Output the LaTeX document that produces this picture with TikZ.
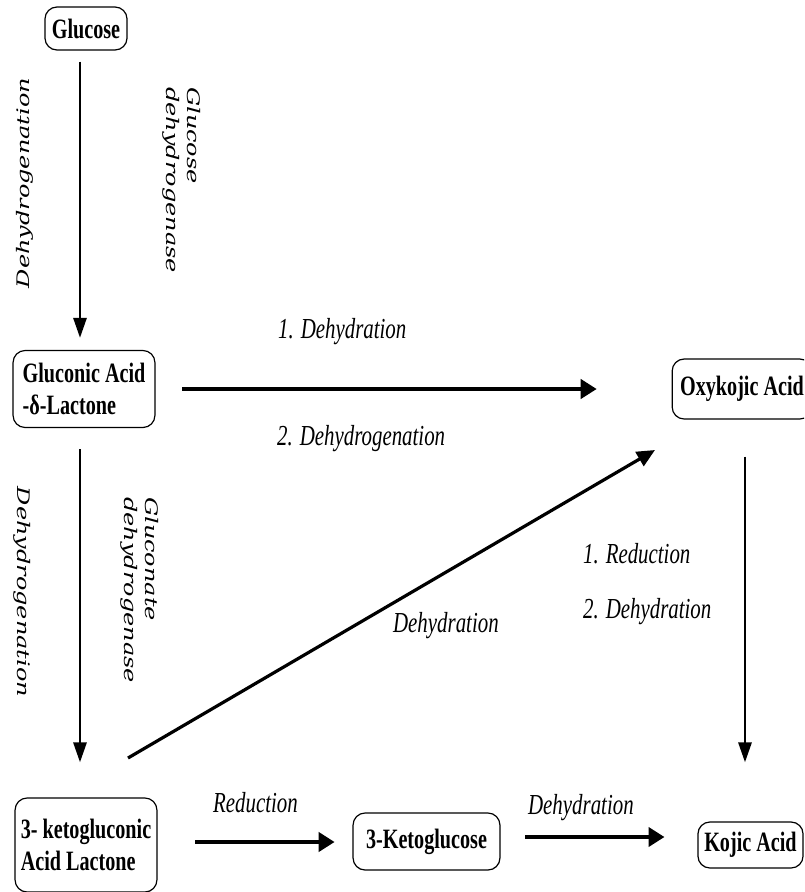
\documentclass[tikz,border=0pt]{standalone}
\usepackage{fontspec}
\newfontfamily\tnr{Liberation Serif}
\newfontfamily\dvs{DejaVu Serif}
\usetikzlibrary{arrows.meta}
\tikzset{
  chem/.style={draw, line width=1.2pt, rounded corners=12pt, inner sep=0pt, align=left,
    font=\tnr\bfseries\fontsize{28}{32.5}\selectfont},
  rxn/.style={inner sep=0pt, anchor=base west, font=\tnr\itshape\fontsize{29}{32}\selectfont},
  enz/.style={inner sep=0pt, align=left, font=\dvs\itshape\fontsize{24}{30}\selectfont},
  varrow/.style={line width=2.8pt, -{Triangle[length=20pt,width=13pt]}},
  harrow/.style={line width=4pt, -{Triangle[length=16pt,width=19pt]}},
  darrow/.style={line width=3.2pt, -{Triangle[length=18pt,width=16pt]}}
}
\begin{document}
\begin{tikzpicture}[x=1.38889pt, y=-1pt, xscale=0.72, transform shape]
\useasboundingbox (0,0) rectangle (804,892);
\clip (0,0) rectangle (804,892);

\node[chem, minimum width=114, minimum height=43] (glc) at (86,28.5) {Glucose};
\node[chem, minimum width=197, minimum height=77] (gla) at (84,389) {Gluconic Acid\\-δ-Lactone};
\node[chem, minimum width=194, minimum height=60] (oxy) at (742,389) {Oxykojic Acid};
\node[chem, minimum width=197, minimum height=94] (kgl) at (86,845) {3- ketogluconic\\Acid Lactone};
\node[chem, minimum width=204, minimum height=57] (kgc) at (426.5,841.5) {3-Ketoglucose};
\node[chem, minimum width=146, minimum height=46] (koj) at (750.5,845) {Kojic Acid};

\node[enz, rotate=90] (dhA) at (25,183) {Dehydrogenation};
\node[enz, rotate=-90, anchor=north west] (gdh) at (201,87) {Glucose\\dehydrogenase};
\node[enz, rotate=-90] (dhB) at (22,592) {Dehydrogenation};
\node[enz, rotate=-90, anchor=north west] (gcd) at (159,497) {Gluconate\\dehydrogenase};

\node[rxn] (r1) at (278,338) {1. Dehydration};
\node[rxn] (r2) at (277,445) {2. Dehydrogenation};
\node[rxn] (r3) at (393,632) {Dehydration};
\node[rxn] (r4) at (583,563) {1. Reduction};
\node[rxn] (r5) at (583,618) {2. Dehydration};
\node[rxn] (r6) at (213,812) {Reduction};
\node[rxn] (r7) at (528,814) {Dehydration};

\coordinate (gx) at (80,0);
\coordinate (kx) at (745,0);
\coordinate (ry) at (0,842);
\coordinate (dy) at (0,837);
\coordinate (ds) at (128,758);
\coordinate (de) at (655,450);

\draw[varrow, shorten <=11pt, shorten >=12pt] (glc.south -| gx) -- (gla.north -| gx);
\draw[varrow, shorten <=21pt, shorten >=35pt] (gla.south -| gx) -- (kgl.north -| gx);
\draw[varrow, shorten <=37pt, shorten >=59pt] (oxy.south -| kx) -- (koj.north -| kx);
\draw[harrow, shorten <=27pt, shorten >=75pt] (gla.east) -- (oxy.west);
\draw[harrow, shorten <=38pt, shorten >=18pt] (kgl.east |- ry) -- (kgc.west |- ry);
\draw[harrow, shorten <=25pt, shorten >=33pt] (kgc.east |- dy) -- (koj.west |- dy);
\draw[darrow] (ds) -- (de);
\end{tikzpicture}
\end{document}
